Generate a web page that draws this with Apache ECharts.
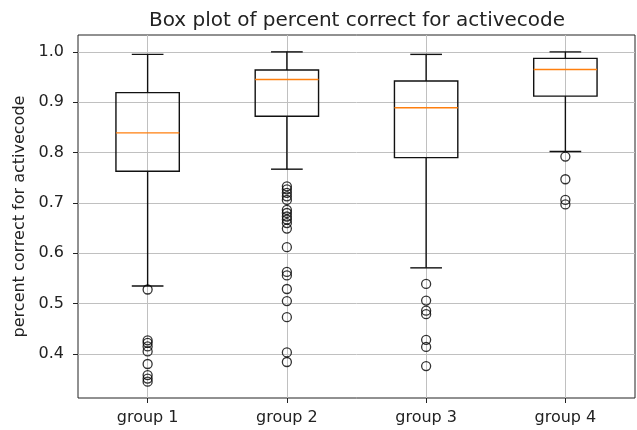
<!DOCTYPE html>
<html>
<head>
<meta charset="utf-8">
<script src="https://cdn.jsdelivr.net/npm/echarts@6/dist/echarts.min.js"></script>
<style>html,body{margin:0;padding:0;background:#fff;}#c{width:637px;height:430px;}</style>
</head>
<body>
<div id="c"></div>
<script>
var categories = ['group 1', 'group 2', 'group 3', 'group 4'];
// [lower whisker, Q1, median, Q3, upper whisker]
var group1Box = [0.535, 0.763, 0.839, 0.919, 0.995];
var group2Box = [0.767, 0.872, 0.945, 0.964, 1.000];
var group3Box = [0.571, 0.790, 0.889, 0.942, 0.995];
var group4Box = [0.802, 0.912, 0.965, 0.987, 1.000];
var group1Outliers = [0.528, 0.427, 0.422, 0.415, 0.405, 0.380, 0.358, 0.351, 0.345];
var group2Outliers = [0.733, 0.727, 0.720, 0.713, 0.706, 0.686, 0.680, 0.673, 0.667, 0.660, 0.649, 0.612, 0.563, 0.556, 0.529, 0.505, 0.473, 0.403, 0.384];
var group3Outliers = [0.539, 0.506, 0.486, 0.479, 0.428, 0.414, 0.376];
var group4Outliers = [0.792, 0.747, 0.706, 0.697];
var yTicks = [0.4, 0.5, 0.6, 0.7, 0.8, 0.9, 1.0];

var boxes = [group1Box, group2Box, group3Box, group4Box];
var outs = [group1Outliers, group2Outliers, group3Outliers, group4Outliers];
var boxData = boxes.map(function (b, i) { return [i].concat(b); });
var outData = [];
outs.forEach(function (arr, i) { arr.forEach(function (v) { outData.push([i, v]); }); });

var FONT = 'DejaVu Sans';
var chart = echarts.init(document.getElementById('c'), null, {renderer: 'canvas'});
chart.setOption({
  animation: false,
  title: {
    text: 'Box plot of percent correct for activecode',
    left: 144, top: 6,
    textStyle: {fontFamily: FONT, fontSize: 20, fontWeight: 'normal', color: '#222'}
  },
  grid: {left: 78, top: 35, right: 2, bottom: 32, show: true, borderColor: '#222', borderWidth: 1, backgroundColor: 'transparent'},
  xAxis: [{
    type: 'category', data: categories, boundaryGap: true,
    axisLine: {show: false},
    axisTick: {show: true, alignWithLabel: true, length: 5, lineStyle: {color: '#222'}},
    axisLabel: {fontFamily: FONT, fontSize: 16, color: '#222', margin: 12},
    splitLine: {show: false}
  }, {
    type: 'value', min: 0.5, max: 4.5, position: 'bottom',
    axisLine: {show: false}, axisLabel: {show: false},
    axisTick: {show: false, customValues: [1, 2, 3, 4]},
    splitLine: {show: true, lineStyle: {color: '#c0c0c0', width: 1}}
  }],
  yAxis: {
    type: 'value', min: 0.3125, max: 1.0335,
    name: 'percent correct for activecode', nameLocation: 'middle', nameGap: 50,
    nameTextStyle: {fontFamily: FONT, fontSize: 16, color: '#222'},
    axisLine: {show: false},
    axisTick: {show: true, length: 5, customValues: yTicks, lineStyle: {color: '#222'}},
    axisLabel: {fontFamily: FONT, fontSize: 16, color: '#222', margin: 14, customValues: yTicks,
      formatter: function (v) { return v.toFixed(1); }},
    splitLine: {show: true, lineStyle: {color: '#c0c0c0', width: 1}}
  },
  series: [{
    type: 'custom',
    xAxisIndex: 0,
    data: boxData,
    encode: {x: 0, y: [1, 2, 3, 4, 5]},
    renderItem: function (params, api) {
      var x = api.value(0);
      var lo = api.coord([x, api.value(1)]);
      var q1 = api.coord([x, api.value(2)]);
      var md = api.coord([x, api.value(3)]);
      var q3 = api.coord([x, api.value(4)]);
      var hi = api.coord([x, api.value(5)]);
      var band = api.size([1, 0])[0];
      var hw = band * 0.455 / 2, cw = hw / 2;
      var cx = lo[0];
      var st = {stroke: '#111', lineWidth: 1.4, fill: null};
      return {
        type: 'group',
        children: [
          {type: 'line', shape: {x1: cx, y1: q1[1], x2: cx, y2: lo[1]}, style: st},
          {type: 'line', shape: {x1: cx, y1: q3[1], x2: cx, y2: hi[1]}, style: st},
          {type: 'line', shape: {x1: cx - cw, y1: lo[1], x2: cx + cw, y2: lo[1]}, style: st},
          {type: 'line', shape: {x1: cx - cw, y1: hi[1], x2: cx + cw, y2: hi[1]}, style: st},
          {type: 'rect', shape: {x: cx - hw, y: q3[1], width: 2 * hw, height: q1[1] - q3[1]}, style: {stroke: '#111', lineWidth: 1.4, fill: 'none'}},
          {type: 'line', shape: {x1: cx - hw, y1: md[1], x2: cx + hw, y2: md[1]}, style: {stroke: '#ff7f0e', lineWidth: 1.4}}
        ]
      };
    },
    z: 3
  }, {
    type: 'scatter',
    xAxisIndex: 0,
    data: outData,
    symbol: 'circle', symbolSize: 9,
    itemStyle: {color: 'rgba(0,0,0,0)', borderColor: '#000', borderWidth: 1.3},
    z: 4
  }]
});
</script>
</body>
</html>
